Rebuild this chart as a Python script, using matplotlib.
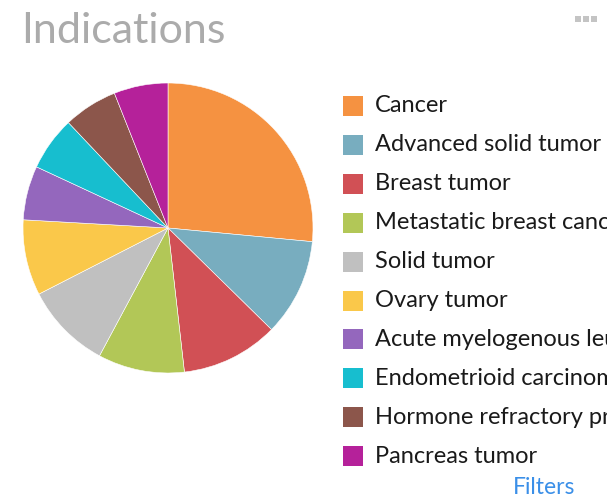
import matplotlib
matplotlib.use("Agg")
import matplotlib.pyplot as plt
from matplotlib.patches import Rectangle

categories = ["Cancer", "Advanced solid tumor", "Breast tumor", "Metastatic breast cancer",
              "Solid tumor", "Ovary tumor", "Acute myelogenous leukemia",
              "Endometrioid carcinoma", "Hormone refractory prostate cancer", "Pancreas tumor"]
counts = [22, 9, 9, 8, 8, 7, 5, 5, 5, 5]
colors = ["#F59241", "#78ADBF", "#D15055", "#B2C757", "#C0C0C0", "#FAC84A",
          "#9467BD", "#17BECF", "#8C564B", "#B5219A"]

W, H = 607, 501
fig = plt.figure(figsize=(W / 100, H / 100), dpi=100)
fig.patch.set_facecolor("white")

cx, cy, r = 168, 228, 145
ax = fig.add_axes([(cx - r) / W, (H - cy - r) / H, 2 * r / W, 2 * r / H])
ax.pie(counts, colors=colors, startangle=90, counterclock=False, radius=1,
       wedgeprops=dict(edgecolor="white", linewidth=0.4))
ax.set_xlim(-1, 1)
ax.set_ylim(-1, 1)
ax.set_aspect("equal")
ax.axis("off")

fig.text(21 / W, 1 - 31 / H, "Indications", fontsize=31, color="#ababab",
         family="Lato", fontweight="normal", va="center", ha="left")

# legend
y0, dy = 106, 38.9
sq = 20
for i, (lab, col) in enumerate(zip(categories, colors)):
    yc = y0 + dy * i
    fig.add_artist(Rectangle((343 / W, 1 - (yc + sq / 2) / H), sq / W, sq / H,
                             transform=fig.transFigure, facecolor=col, edgecolor="none"))
    fig.text(375 / W, 1 - yc / H, lab, fontsize=17, color="#1a1a1a", family="Lato",
             va="center", ha="left")

fig.text(544 / W, 1 - 488 / H, "Filters", fontsize=16.5, color="#3a8fe8", family="Lato",
         va="center", ha="center")

for k in range(3):
    fig.add_artist(Rectangle(((575 + 8 * k) / W, 1 - 22 / H), 6 / W, 6 / H,
                             transform=fig.transFigure, facecolor="#c4c4c4", edgecolor="none"))

fig.savefig("out.png", dpi=100, facecolor="white")
